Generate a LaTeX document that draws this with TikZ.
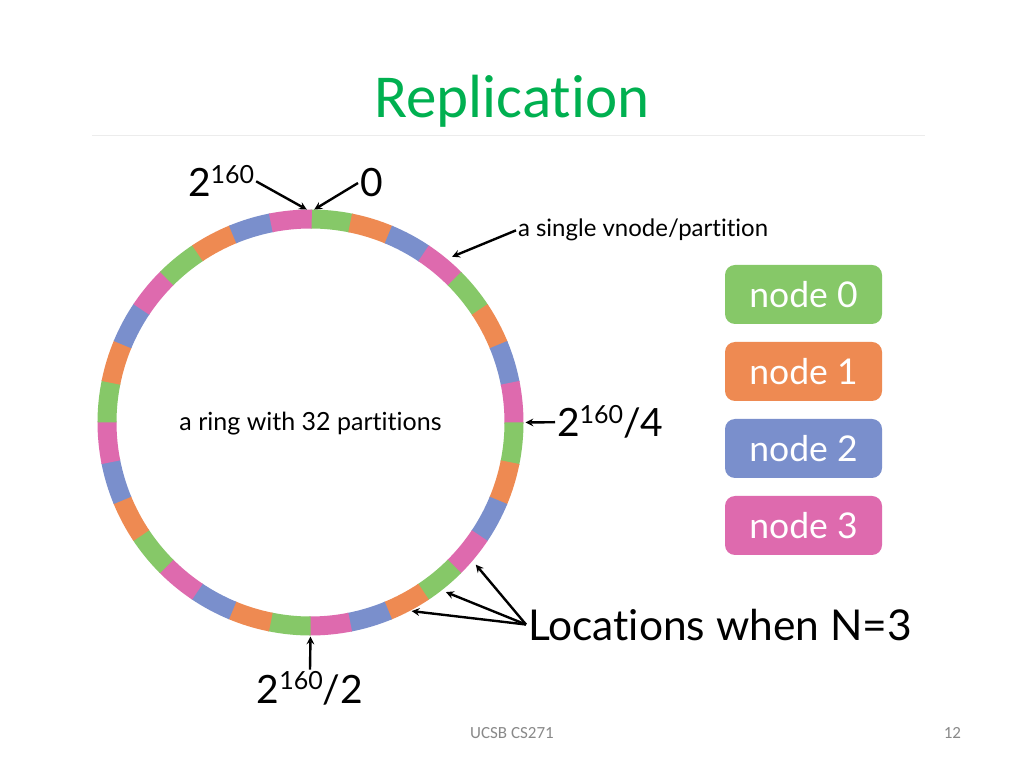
\documentclass[tikz,border=0pt]{standalone}
\usepackage{fontspec}
\setmainfont{Lato}[Ligatures=NoCommon]
\newfontfamily\slidefont{Carlito}[Ligatures=NoCommon]
\usetikzlibrary{arrows, positioning}
\definecolor{RingGreen}{RGB}{134,200,104}
\definecolor{RingOrange}{RGB}{238,138,82}
\definecolor{RingBlue}{RGB}{122,143,204}
\definecolor{RingPink}{RGB}{222,106,174}
\definecolor{TitleGreen}{RGB}{0,176,80}
\definecolor{FootGray}{RGB}{137,137,137}
\definecolor{RuleGray}{RGB}{236,236,236}
\newcommand\powtext[1]{\raisebox{0.34em}{\fontsize{25}{28}\selectfont #1}}

\begin{document}
\begin{tikzpicture}[x=1pt, y=1pt, every node/.style={inner sep=2pt, outer sep=0pt}, arrow/.style={line width=2.4pt, ->, >=stealth, draw=black}, nodebox/.style={fill=#1, rounded corners=10pt, minimum width=157pt, minimum height=59pt, text=white, font=\fontsize{35.5}{40}\selectfont}, marktext/.style={font=\fontsize{39}{46}\selectfont}]
\fill[white] (0,0) rectangle (1024,768);
\useasboundingbox (0,0) rectangle (1024,768);

% title and footer
\node[anchor=base, text=TitleGreen, font=\slidefont\fontsize{61}{70}\selectfont] (title) at (512,650) {Replication};
\draw[RuleGray, line width=1pt] (92,632) -- (925,632);
\node[text=FootGray, font=\slidefont\fontsize{17}{20}\selectfont] (course) at (512,35) {UCSB CS271};
\node[anchor=east, text=FootGray, font=\slidefont\fontsize{17}{20}\selectfont] (page) at (963,35) {12};

% ring of 32 partitions
\coordinate (c) at (310.5,345.5);
\foreach \g in {0,...,7} {
  \foreach \col [count=\j from 0] in {RingGreen,RingOrange,RingBlue,RingPink} {
    \pgfmathsetmacro\a{90-45*\g-11.25*\j}
    \pgfmathsetmacro\b{\a-11.6}
    \fill[\col] ([shift={(\a:194)}]c) arc[start angle=\a, end angle=\b, radius=194]
      -- ([shift={(\b:213)}]c) arc[start angle=\b, end angle=\a, radius=213] -- cycle;
  }
}
\node[font=\fontsize{25}{30}\selectfont] (ringtext) at (310.5,344) {a ring with 32 partitions};

% points on the ring
\coordinate (topl) at ([shift={(91:213)}]c);
\coordinate (topr) at ([shift={(89:213)}]c);
\coordinate (vpart) at ([shift={(49.5:218)}]c);
\coordinate (quarter) at ([shift={(0:215)}]c);
\coordinate (half) at ([shift={(270:214)}]c);
\coordinate (loc1) at ([shift={(-40.7:218)}]c);
\coordinate (loc2) at ([shift={(-51.4:217)}]c);
\coordinate (loc3) at ([shift={(-61.8:214)}]c);

% labels
\node[marktext, anchor=base west] (wrap) at (186,571) {2\powtext{160}};
\node[marktext, anchor=base west] (zero) at (358,571) {0};
\node[anchor=base west, font=\fontsize{24}{28}\selectfont] (vnode) at (516,531) {a single vnode/partition};
\node[marktext, anchor=base west] (q4) at (555,331) {2\powtext{160}/4};
\node[marktext, anchor=base] (q2) at (310,65) {2\powtext{160}/2};
\node[anchor=base west, font=\fontsize{42.5}{48}\selectfont] (locations) at (526,128) {Locations when N=3};

\draw [arrow] (wrap.east) -- (topl);
\draw [arrow] (zero.west) -- (topr);
\draw [arrow] (vnode.west) -- (vpart);
\draw [arrow] (q4.west) -- (quarter);
\draw [arrow] (q2.north) -- (half);
\draw [arrow] (locations.west) -- (loc1);
\draw [arrow] (locations.west) -- (loc2);
\draw [arrow] (locations.west) -- (loc3);

% legend
\node[nodebox=RingGreen] (node0) at (803.5,473.5) {node 0};
\node[nodebox=RingOrange, below=18pt of node0] (node1) {node 1};
\node[nodebox=RingBlue, below=18pt of node1] (node2) {node 2};
\node[nodebox=RingPink, below=18pt of node2] (node3) {node 3};
\end{tikzpicture}
\end{document}
